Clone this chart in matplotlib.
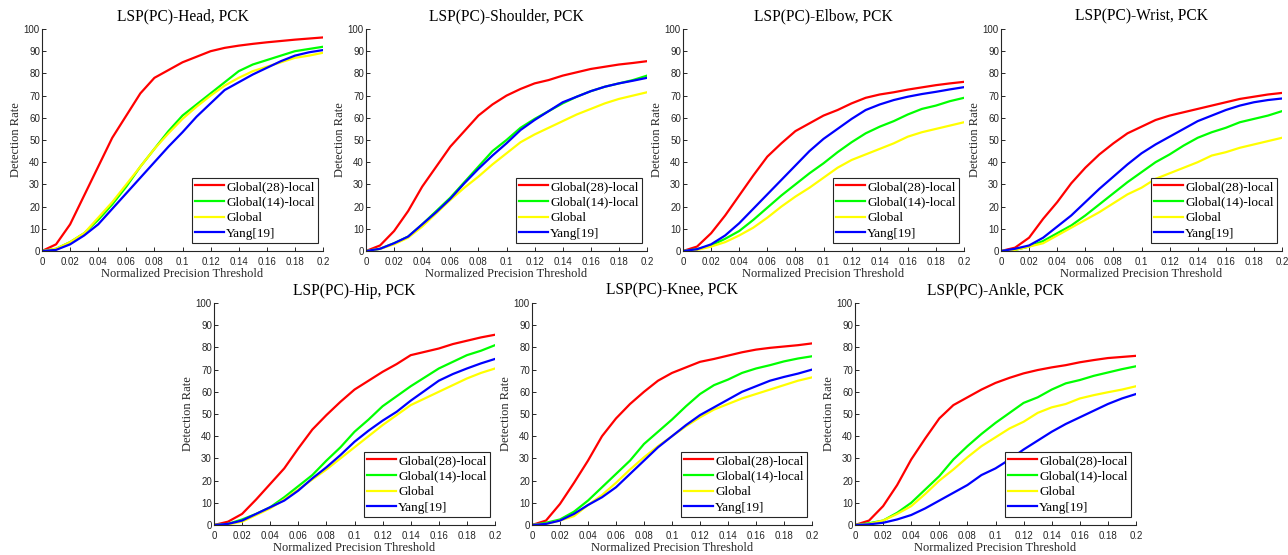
import numpy as np
import matplotlib
matplotlib.use("Agg")
import matplotlib.pyplot as plt
from matplotlib.ticker import FuncFormatter

thresholds = [0.00, 0.01, 0.02, 0.03, 0.04, 0.05, 0.06, 0.07, 0.08, 0.09, 0.10,
              0.11, 0.12, 0.13, 0.14, 0.15, 0.16, 0.17, 0.18, 0.19, 0.20]

series_names = ["Global(28)-local", "Global(14)-local", "Global", "Yang[19]"]
series_colors = ["#FF0000", "#00FF00", "#FFFF00", "#0000FF"]

parts = ["Head", "Shoulder", "Elbow", "Wrist", "Hip", "Knee", "Ankle"]

head_g28 = [0, 3, 12, 25, 38, 51, 61, 71, 78, 81.5, 85, 87.5, 90, 91.5, 92.5, 93.3, 94, 94.6, 95.2, 95.7, 96.2]
head_g14 = [0, 1, 4, 8, 14, 21, 29, 38, 46, 54, 61, 66, 71, 76, 81, 84, 86, 88, 90, 91, 92]
head_glob = [0, 1, 4, 8, 15, 22, 30, 38, 46, 53, 59.5, 65, 70, 74.5, 78, 81, 83, 85, 87, 88, 89.3]
head_yang = [0, 0.5, 3, 7, 12, 19, 26, 33, 40, 47, 53.5, 60.5, 66.5, 72.5, 76, 79.5, 82.5, 85.5, 88, 89.5, 90.5]

shoulder_g28 = [0, 2.5, 9, 18, 29, 38, 47, 54, 61, 66, 70, 73, 75.5, 77, 79, 80.5, 82, 83, 84, 84.7, 85.5]
shoulder_g14 = [0, 1, 3.5, 6.5, 12, 18, 24, 31, 38, 45, 50, 55.5, 59.5, 63, 66.5, 69.5, 72, 74, 75.5, 77, 79]
shoulder_glob = [0, 1, 3, 6, 11, 17, 23, 28.5, 33.5, 39, 44, 49, 52.5, 55.5, 58.5, 61.5, 64, 66.5, 68.5, 70, 71.5]
shoulder_yang = [0, 1, 3.5, 6.5, 12, 17.5, 23.5, 30.5, 37, 43, 48.5, 54.5, 59, 63, 67, 69.5, 72, 74, 75.5, 76.7, 78]

elbow_g28 = [0, 2, 8, 16, 25, 34, 42.5, 48.5, 54, 57.5, 61, 63.5, 66.5, 69, 70.5, 71.5, 72.7, 73.7, 74.7, 75.5, 76.2]
elbow_g14 = [0, 0.8, 2.5, 5.5, 9, 14, 19.5, 25, 30, 35, 39.5, 44.5, 49, 53, 56, 58.5, 61.5, 64, 65.5, 67.5, 69]
elbow_glob = [0, 0.5, 2, 4, 7, 10.5, 15, 20, 24.5, 28.5, 33, 37.5, 41, 43.5, 46, 48.5, 51.5, 53.5, 55, 56.5, 58]
elbow_yang = [0, 0.8, 3, 7, 12.5, 19, 25.5, 32, 38.5, 45, 50.5, 55, 59.5, 63.5, 66, 68, 69.5, 70.7, 71.7, 72.8, 73.8]

wrist_g28 = [0, 1.5, 6, 14.5, 22, 30.5, 37.5, 43.5, 48.5, 53, 56, 59, 61, 62.5, 64, 65.5, 67, 68.5, 69.5, 70.5, 71.2]
wrist_g14 = [0, 0.5, 2, 4.5, 8, 11.5, 16, 21, 26, 31, 35.5, 40, 43.5, 47.5, 51, 53.5, 55.5, 58, 59.5, 61, 63]
wrist_glob = [0, 0.5, 2, 3.5, 7, 10.5, 14, 17.5, 21.5, 25.5, 28.5, 32.5, 35, 37.5, 40, 43, 44.5, 46.5, 48, 49.5, 51]
wrist_yang = [0, 1, 2.5, 6, 11, 16, 22, 28, 33.5, 39, 44, 48, 51.5, 55, 58.5, 61, 63.5, 65.5, 67, 68, 68.7]

hip_g28 = [0, 1.5, 5, 11.5, 18.5, 25.5, 34.5, 43, 49.5, 55.5, 61, 65, 69, 72.5, 76.5, 78, 79.5, 81.5, 83, 84.5, 85.7]
hip_g14 = [0, 0.5, 2.5, 5, 8, 12.5, 17.5, 22.5, 29, 35, 42, 47.5, 53.5, 58, 62.5, 66.5, 70.5, 73.5, 76.5, 78.5, 81]
hip_glob = [0, 0.3, 1.5, 4.5, 7.5, 11.5, 16, 20.5, 25, 30, 35, 40, 45, 49.5, 54, 57, 60, 63, 66, 68.5, 70.5]
hip_yang = [0, 0.5, 2, 5, 8, 11, 15.5, 21, 26, 31.5, 37.5, 42.5, 47, 51, 56, 60.5, 65, 68, 70.5, 72.8, 74.8]

knee_g28 = [0, 2, 9.5, 19, 29, 40, 48, 54.5, 60, 65, 68.5, 71, 73.5, 74.8, 76.3, 77.8, 79, 79.8, 80.4, 81, 81.8]
knee_g14 = [0, 1, 2.5, 6, 11, 17, 23, 29, 36.5, 42, 47.5, 53.5, 59, 63, 65.5, 68.5, 70.5, 72, 73.7, 75, 76]
knee_glob = [0, 0.5, 2, 4, 9, 13.5, 19, 25, 30.5, 35.5, 40, 44.5, 48.5, 52, 54.5, 57, 59, 61, 63, 65, 66.5]
knee_yang = [0, 0.5, 2, 5, 9, 12.5, 17, 23, 29, 35, 40, 45, 49.5, 53, 56.5, 60, 62.5, 65, 66.7, 68.2, 70]

ankle_g28 = [0, 2, 8.5, 18, 29.5, 39, 48, 54, 57.5, 61, 64, 66.3, 68.3, 69.8, 71, 72, 73.3, 74.3, 75.2, 75.7, 76.2]
ankle_g14 = [0, 0.8, 2, 5.5, 10, 16, 22, 29.5, 35.5, 41, 46, 50.5, 55, 57.5, 61, 63.8, 65.3, 67.2, 68.7, 70.2, 71.5]
ankle_glob = [0, 0.5, 2, 5, 8.5, 14, 20, 25, 30.5, 35.5, 39.5, 43.5, 46.5, 50.5, 53, 54.5, 57, 58.5, 59.8, 61, 62.5]
ankle_yang = [0, 0.3, 1, 2.5, 4.5, 7.5, 11, 14.5, 18, 22.5, 25.5, 29.5, 34, 38, 42, 45.5, 48.5, 51.5, 54.5, 57, 59]

part_series = {
    "Head": [head_g28, head_g14, head_glob, head_yang],
    "Shoulder": [shoulder_g28, shoulder_g14, shoulder_glob, shoulder_yang],
    "Elbow": [elbow_g28, elbow_g14, elbow_glob, elbow_yang],
    "Wrist": [wrist_g28, wrist_g14, wrist_glob, wrist_yang],
    "Hip": [hip_g28, hip_g14, hip_glob, hip_yang],
    "Knee": [knee_g28, knee_g14, knee_glob, knee_yang],
    "Ankle": [ankle_g28, ankle_g14, ankle_glob, ankle_yang],
}

W, H = 1288, 555
fig = plt.figure(figsize=(W / 100, H / 100), dpi=100)

# axes boxes in pixels: (left, top, right, bottom)
boxes = [
    (42, 29, 323, 251),
    (366, 29, 647, 251),
    (683, 29, 964, 251),
    (1001, 29, 1282, 251),
    (214, 303, 495, 525),
    (532, 303, 812, 525),
    (855, 303, 1136, 525),
]

serif = ["Liberation Serif", "DejaVu Serif"]
sans = ["Liberation Sans", "DejaVu Sans"]
dark = "#262626"

def fmt(v, pos):
    s = ("%.2f" % v).rstrip("0").rstrip(".")
    return s

for part, (l, t, r, b) in zip(parts, boxes):
    ax = fig.add_axes([l / W, (H - b) / H, (r - l) / W, (b - t) / H])
    for vals, name, col in zip(part_series[part], series_names, series_colors):
        ax.plot(thresholds, vals, color=col, lw=1.6, label=name)
    ax.set_xlim(0, 0.2)
    ax.set_ylim(0, 100)
    ax.set_xticks(np.arange(0, 0.2001, 0.02))
    ax.set_yticks(np.arange(0, 101, 10))
    ax.xaxis.set_major_formatter(FuncFormatter(fmt))
    ax.tick_params(direction="in", length=3, width=0.7, colors=dark, labelsize=7)
    for lab in ax.get_xticklabels() + ax.get_yticklabels():
        lab.set_family(sans)
    ax.tick_params(axis="x", pad=4)
    ax.tick_params(axis="y", pad=1.5)
    for s in ["top", "right"]:
        ax.spines[s].set_visible(False)
    for s in ["left", "bottom"]:
        ax.spines[s].set_color(dark)
        ax.spines[s].set_linewidth(0.8)
    ax.set_title("LSP(PC)-%s, PCK" % part, family=serif, fontsize=11.2, pad=6)
    ax.set_xlabel("Normalized Precision Threshold", family=serif, fontsize=9, color=dark, labelpad=1)
    ax.set_ylabel("Detection Rate", family=serif, fontsize=9, color=dark, labelpad=1)
    leg = ax.legend(loc="lower right", bbox_to_anchor=(0.982, 0.036), borderaxespad=0,
                    prop={"family": serif, "size": 9.5}, frameon=True, fancybox=False,
                    framealpha=1, edgecolor=dark, handlelength=2.2, handletextpad=0.15,
                    labelspacing=0.25, borderpad=0.25)
    leg.get_frame().set_linewidth(0.8)

fig.savefig("out.png", dpi=100)
